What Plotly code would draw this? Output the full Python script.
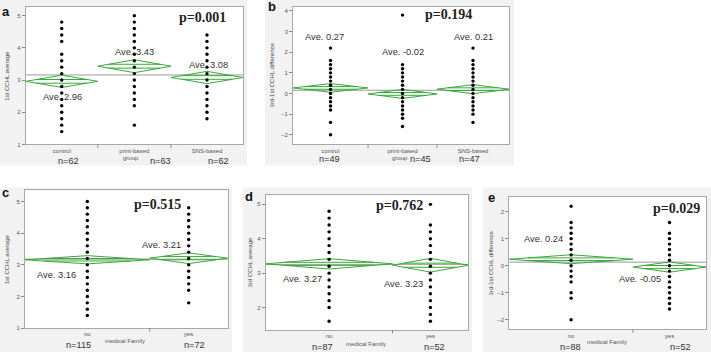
import plotly.graph_objects as go

W, H = 711, 355

# ---------------- data ----------------
a_groups = ["control", "print-based", "SNS-based"]
a_n = [62, 63, 62]
a_means = [2.96, 3.43, 3.08]
a_ci = [0.19, 0.20, 0.19]
a_control = [4.8, 4.6, 4.4, 4.2, 3.8, 3.6, 3.4, 3.2, 3.0, 2.8, 2.6, 2.4, 2.2, 2.0, 1.8, 1.6, 1.4]
a_print = [5.0, 4.8, 4.6, 4.4, 4.2, 4.0, 3.8, 3.6, 3.4, 3.2, 3.0, 2.8, 2.6, 2.4, 2.2, 1.6]
a_sns = [4.4, 4.2, 4.0, 3.8, 3.6, 3.4, 3.2, 3.0, 2.8, 2.6, 2.4, 2.2, 2.0, 1.8]
a_yticks = [1, 2, 3, 4, 5]

b_groups = ["control", "print-based", "SNS-based"]
b_n = [49, 45, 47]
b_means = [0.27, -0.02, 0.21]
b_ci = [0.21, 0.22, 0.22]
b_control = [2.2, 1.6, 1.4, 1.2, 1.0, 0.8, 0.6, 0.4, 0.2, 0.0, -0.2, -0.4, -0.6, -0.8, -1.4, -2.0]
b_print = [3.8, 1.4, 1.2, 1.0, 0.8, 0.6, 0.4, 0.2, 0.0, -0.2, -0.4, -0.6, -0.8, -1.0, -1.2, -1.6]
b_sns = [2.2, 1.6, 1.4, 1.2, 1.0, 0.8, 0.6, 0.4, 0.2, 0.0, -0.2, -0.4, -0.6, -0.8, -1.0, -1.4]
b_yticks = [-2, -1, 0, 1, 2, 3, 4]

c_groups = ["no", "yes"]
c_n = [115, 72]
c_means = [3.16, 3.21]
c_ci = [0.13, 0.17]
c_no = [5.0, 4.8, 4.6, 4.4, 4.2, 4.0, 3.8, 3.6, 3.4, 3.2, 3.0, 2.8, 2.6, 2.4, 2.2, 2.0, 1.8, 1.6, 1.4]
c_yes = [4.8, 4.6, 4.4, 4.2, 4.0, 3.8, 3.6, 3.4, 3.2, 3.0, 2.8, 2.6, 2.4, 2.2, 1.8]
c_yticks = [1, 2, 3, 4, 5]

d_groups = ["no", "yes"]
d_n = [87, 52]
d_means = [3.27, 3.23]
d_ci = [0.15, 0.20]
d_no = [4.8, 4.6, 4.4, 4.2, 4.0, 3.8, 3.6, 3.4, 3.2, 3.0, 2.8, 2.6, 2.4, 2.2, 2.0, 1.6]
d_yes = [5.0, 4.4, 4.2, 4.0, 3.8, 3.6, 3.4, 3.2, 3.0, 2.8, 2.6, 2.4, 2.2, 2.0, 1.8, 1.6]
d_yticks = [2, 3, 4, 5]

e_groups = ["no", "yes"]
e_n = [88, 52]
e_means = [0.24, -0.05]
e_ci = [0.165, 0.19]
e_no = [2.2, 1.6, 1.4, 1.2, 1.0, 0.8, 0.6, 0.4, 0.2, 0.0, -0.2, -0.4, -0.6, -1.0, -1.2, -2.0]
e_yes = [1.6, 1.2, 1.0, 0.8, 0.6, 0.4, 0.2, 0.0, -0.2, -0.4, -0.6, -0.8, -1.0, -1.2, -1.4, -1.6]
e_yticks = [-2, -1, 0, 1, 2]

# ---------------- layout helpers ----------------
GREEN = "#3aa83a"
SANS = "Liberation Sans"
SERIF = "Liberation Serif"


def px(x):
    return x / W


def py(y):
    return 1 - y / H


panels = [
    dict(groups=a_groups, n=a_n, means=a_means, ci=a_ci, vals=[a_control, a_print, a_sns],
         yticks=a_yticks, yrange=[1, 5.27], box=(25.7, 243, 7, 145.7), bg=(0, 247, 0, 167),
         ytitle="1st CCHL average", ytx=7),
    dict(groups=b_groups, n=b_n, means=b_means, ci=b_ci, vals=[b_control, b_print, b_sns],
         yticks=b_yticks, yrange=[-2.47, 4.21], box=(293, 509, 6.7, 145.7), bg=(265, 514, 0, 167),
         ytitle="3rd-1st CCHL difference", ytx=272),
    dict(groups=c_groups, n=c_n, means=c_means, ci=c_ci, vals=[c_no, c_yes],
         yticks=c_yticks, yrange=[1, 5.35], box=(25, 227.7, 192, 331), bg=(0, 232, 189, 355),
         ytitle="1st CCHL average", ytx=7),
    dict(groups=d_groups, n=d_n, means=d_means, ci=d_ci, vals=[d_no, d_yes],
         yticks=d_yticks, yrange=[1.35, 5.27], box=(265.7, 468.3, 196.7, 332.7), bg=(243, 472, 189, 355),
         ytitle="3rd CCHL average", ytx=250),
    dict(groups=e_groups, n=e_n, means=e_means, ci=e_ci, vals=[e_no, e_yes],
         yticks=e_yticks, yrange=[-2.36, 2.53], box=(509.3, 706, 199, 332.3), bg=(483, 711, 189, 355),
         ytitle="3rd-1st CCHL difference", ytx=491),
]

fig = go.Figure()
shapes = []
annotations = []
layout = {}

for i, p in enumerate(panels):
    k = i + 1
    xa = "x" if k == 1 else f"x{k}"
    ya = "y" if k == 1 else f"y{k}"
    xkey = "xaxis" if k == 1 else f"xaxis{k}"
    ykey = "yaxis" if k == 1 else f"yaxis{k}"
    ns = p["n"]
    total = sum(ns)
    cum = [0]
    for v in ns:
        cum.append(cum[-1] + v)
    centers = [(cum[j] + cum[j + 1]) / 2 for j in range(len(ns))]
    grand = sum(m * n for m, n in zip(p["means"], ns)) / total

    x0, x1, yt, yb = p["box"]
    # panel background and white plotting area
    bx0, bx1, by0, by1 = p["bg"]
    shapes.append(dict(type="rect", xref="paper", yref="paper", x0=px(bx0), x1=px(bx1),
                       y0=py(by1), y1=py(by0), fillcolor="#f2f2f2", line=dict(width=0), layer="below"))
    shapes.append(dict(type="rect", xref="paper", yref="paper", x0=px(x0), x1=px(x1),
                       y0=py(yb), y1=py(yt), fillcolor="white", line=dict(width=0), layer="below"))

    # grand mean line
    fig.add_trace(go.Scatter(x=[0, total], y=[grand, grand], mode="lines",
                             line=dict(color="#9a9a9a", width=1), xaxis=xa, yaxis=ya,
                             hoverinfo="skip"))
    # mean diamonds
    for j in range(len(ns)):
        l, r, c = cum[j], cum[j + 1], centers[j]
        m, h = p["means"][j], p["ci"][j]
        fig.add_trace(go.Scatter(x=[l, c, r, c, l], y=[m, m + h, m, m - h, m], mode="lines",
                                 line=dict(color=GREEN, width=1), xaxis=xa, yaxis=ya))
        kk = 0.3
        half = (r - l) / 2
        for s in (1, -1):
            fig.add_trace(go.Scatter(x=[l + half * kk, r - half * kk], y=[m + s * kk * h, m + s * kk * h],
                                     mode="lines", line=dict(color=GREEN, width=1), xaxis=xa, yaxis=ya))
    # dots
    for j, vals in enumerate(p["vals"]):
        fig.add_trace(go.Scatter(x=[centers[j]] * len(vals), y=vals, mode="markers",
                                 marker=dict(color="black", size=3.4), xaxis=xa, yaxis=ya))
    # separator ticks
    for b in cum[1:-1]:
        shapes.append(dict(type="line", xref=xa, yref=f"{ya} domain", x0=b, x1=b, y0=0, y1=-0.025,
                           line=dict(color="#888", width=1)))

    layout[xkey] = dict(domain=[px(x0), px(x1)], range=[0, total], anchor=ya,
                        tickmode="array", tickvals=centers, ticktext=p["groups"], ticks="",
                        tickfont=dict(family=SANS, size=6, color="#555"),
                        showline=True, mirror=True, linecolor="#a8a8a8", linewidth=1,
                        showgrid=False, zeroline=False, fixedrange=True)
    layout[ykey] = dict(domain=[py(yb), py(yt)], range=p["yrange"], anchor=xa,
                        tickmode="array", tickvals=p["yticks"], ticks="outside", ticklen=3,
                        tickcolor="#888", tickfont=dict(family=SANS, size=6, color="#555"),
                        showline=True, mirror=True, linecolor="#a8a8a8", linewidth=1,
                        showgrid=False, zeroline=False, fixedrange=True)
    annotations.append(dict(text=p["ytitle"], xref="paper", yref="paper", x=px(p["ytx"]),
                            y=py((yt + yb) / 2), textangle=-90, showarrow=False,
                            font=dict(family=SANS, size=6, color="#444"),
                            xanchor="center", yanchor="middle"))


def note(text, x, y, size=9.3, family=SANS, color="#333", bold=False):
    if bold:
        text = f"<b>{text}</b>"
    annotations.append(dict(text=text, xref="paper", yref="paper", x=px(x), y=py(y),
                            showarrow=False, xanchor="center", yanchor="middle",
                            font=dict(family=family, size=size, color=color)))


# panel letters
for letter, x, y in [("a", 6, 12), ("b", 272, 7), ("c", 5, 194), ("d", 249, 198), ("e", 491, 199)]:
    note(letter, x, y, size=13, color="#111", bold=True)

# p-values
for t, x, y in [("p=0.001", 202.5, 18), ("p=0.194", 448, 14.3), ("p=0.515", 157.5, 206.7),
                ("p=0.762", 399, 207.3), ("p=0.029", 676.5, 210.7)]:
    note(t, x, y, size=14, family=SERIF, color="#222", bold=True)

# average labels
for t, x, y in [("Ave. 2.96", 62.5, 98), ("Ave. 3.43", 134.5, 52), ("Ave. 3.08", 208.5, 66),
                ("Ave. 0.27", 324.5, 37.7), ("Ave. -0.02", 402.7, 52.3), ("Ave. 0.21", 473.3, 37.7),
                ("Ave. 3.16", 56.3, 277.7), ("Ave. 3.21", 161.8, 247.3),
                ("Ave. 3.27", 302.3, 281.7), ("Ave. 3.23", 403, 286.7),
                ("Ave. 0.24", 543.5, 240.7), ("Ave. -0.05", 640, 281.7)]:
    note(t, x, y)

# sample sizes
for t, x, y in [("n=62", 68.5, 162), ("n=63", 160, 162), ("n=62", 218.5, 162),
                ("n=49", 329, 160), ("n=45", 420.5, 160), ("n=47", 469.5, 160),
                ("n=115", 78.3, 348.3), ("n=72", 194.5, 348),
                ("n=87", 322.8, 350), ("n=52", 434.5, 350),
                ("n=88", 570.3, 350), ("n=52", 680, 349.5)]:
    note(t, x, y, size=9.2)

# x-axis titles
for t, x, y in [("group", 131, 159), ("group", 400, 159), ("medical Family", 125, 344.3),
                ("medical Family", 366, 346.7), ("medical Family", 606.8, 345)]:
    note(t, x, y, size=6, color="#555")

fig.update_layout(width=W, height=H, autosize=False, margin=dict(l=0, r=0, t=0, b=0),
                  paper_bgcolor="white", plot_bgcolor="white", showlegend=False,
                  shapes=shapes, annotations=annotations, **layout)

fig.write_html("out.html", config={"displayModeBar": False},
               post_script="document.body.style.margin='0px';document.body.style.padding='0px';"
                           "document.documentElement.style.overflow='hidden';")
